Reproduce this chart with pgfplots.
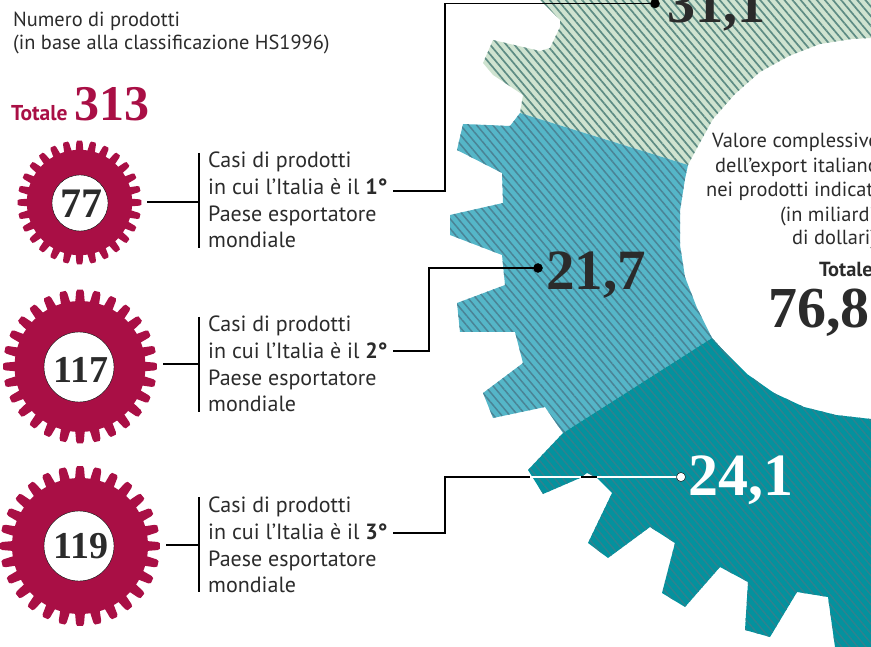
\documentclass[border=0pt]{standalone}
\usepackage{fontspec}
\usepackage{pgfplots}
\pgfplotsset{compat=1.18}
\usetikzlibrary{patterns.meta}
\setmainfont{PT Sans}
\newfontfamily\numf{Liberation Serif}[BoldFont={Liberation Serif Bold}]
\definecolor{crim}{HTML}{A90F45}
\definecolor{txt}{HTML}{2B2B2B}
\definecolor{gfill}{HTML}{CFE3D0}
\definecolor{ghatch}{HTML}{5E8C84}
\definecolor{bfill}{HTML}{55B6C8}
\definecolor{bhatch}{HTML}{4A8496}
\definecolor{tfill}{HTML}{03929E}
\definecolor{thatch}{HTML}{2F828F}
% a toothed wheel as a plot mark: its size is set by mark size
\newcommand\geartooth[1]{%
  \pgfpathmoveto{\pgfpointpolar{#1-4.2}{0.84*\pgfplotmarksize}}%
  \pgfpathlineto{\pgfpointpolar{#1-3.0}{0.97*\pgfplotmarksize}}%
  \pgfpathlineto{\pgfpointpolar{#1-2.0}{1.0*\pgfplotmarksize}}%
  \pgfpathlineto{\pgfpointpolar{#1+2.0}{1.0*\pgfplotmarksize}}%
  \pgfpathlineto{\pgfpointpolar{#1+3.0}{0.97*\pgfplotmarksize}}%
  \pgfpathlineto{\pgfpointpolar{#1+4.2}{0.84*\pgfplotmarksize}}%
  \pgfpathclose\pgfusepathqfill}
\pgfdeclareplotmark{gear}{%
  \pgfpathcircle{\pgfpointorigin}{0.85*\pgfplotmarksize}\pgfusepathqfill
  \foreach \a in {90,102.857,...,449} {\geartooth{\a}}%
}
\newcommand\T[3]{\node[anchor=base west,inner sep=0pt,text=txt,font=\fontsize{22}{26}\selectfont] at (axis cs:#1,#2) {#3};}
\newcommand\Hh[3]{\node[anchor=base west,inner sep=0pt,text=txt,font=\fontsize{20.4}{24}\selectfont] at (axis cs:#1,#2) {#3};}
\newcommand\N[5]{\node[anchor=base west,inner sep=0pt,text=#4,font=\numf\bfseries\fontsize{#5}{#5}\selectfont] at (axis cs:#1,#2) {#3};}
\begin{document}
\begin{tikzpicture}
\clip[use as bounding box] (0,0) rectangle (871pt,647pt);
\begin{axis}[width=871pt,height=647pt,scale only axis,xmin=0,xmax=871,ymin=0,ymax=647,y dir=reverse,
  axis lines=none,clip=false,clip marker paths=true]
% big gear: three sectors
\addplot[draw=none,preaction={fill=gfill},pattern={Lines[angle=-50,distance=6.2pt,line width=1.7pt]},pattern color=ghatch] coordinates {
(540,0)(560,20)(560,27)(550,48)(540,51)(493,40)(483,63)(493,75)(523,95)(520,113)(688,165)
(697,148)(713,119)(735,94)(760,72)(789,56)(820,44)(852,39)(871,38)(871,0)} --cycle;
\addplot[draw=none,preaction={fill=bfill},pattern={Lines[angle=-50,distance=6.2pt,line width=1.5pt]},pattern color=bhatch] coordinates {
(520,113)(510,126)(463,124)(457,150)(502,173)(503,203)(450,215)(450,235)(502,255)(505,285)(457,303)(460,332)(515,332)(523,363)(483,393)(493,418)(545,407)(563,433)
(712,338)(697,308)(685,277)(680,245)(680,211)(685,179)(688,165)} --cycle;
\addplot[draw=none,preaction={fill=tfill},pattern={Lines[angle=-50,distance=6.2pt,line width=1.5pt]},pattern color=thatch] coordinates {
(563,433)(528,470)(543,494)(580,478)(587,473)(597,478)(612,493)(588,543)(608,558)(650,527)(675,543)(662,593)(685,607)(720,567)(748,582)(745,630)(770,637)(797,592)(828,597)(835,647)(871,647)
(871,419)(836,415)(804,407)(774,393)(747,374)(723,350)(712,338)} --cycle;
% small gears
\addplot[only marks,mark=gear,mark size=62,mark options={fill=crim,draw=none}] coordinates {(79.5,202.5)};
\addplot[only marks,mark=gear,mark size=77,mark options={fill=crim,draw=none}] coordinates {(80,366.5)};
\addplot[only marks,mark=gear,mark size=80,mark options={fill=crim,draw=none}] coordinates {(80,546)};
\addplot[only marks,mark=*,mark size=28,mark options={fill=white,draw=none}] coordinates {(80,203)};
\addplot[only marks,mark=*,mark size=35,mark options={fill=white,draw=none}] coordinates {(79,367)(79,546)};
% connectors
\addplot[black,line width=1.3pt] coordinates {(147,202)(199,202)};
\addplot[black,line width=1.3pt] coordinates {(199,153)(199,248)};
\addplot[black,line width=1.3pt] coordinates {(163,364)(199,364)};
\addplot[black,line width=1.3pt] coordinates {(199,317)(199,412)};
\addplot[black,line width=1.3pt] coordinates {(166,545)(199,545)};
\addplot[black,line width=1.3pt] coordinates {(199,497)(199,592)};
\addplot[black,line width=1.1pt] coordinates {(393,191)(445,191)(445,3.5)(655,3.5)};
\addplot[black,line width=1.1pt] coordinates {(393,351)(429,351)(429,268)(538,268)};
\addplot[black,line width=1.1pt] coordinates {(393,533)(445,533)(445,477)(530,477)};
\addplot[white,line width=1.1pt] coordinates {(530,477)(681,477)};
\addplot[black,line width=1.1pt] coordinates {(581,477)(597,477)};
\addplot[only marks,mark=*,mark size=4.5,mark options={fill=black,draw=none}] coordinates {(655,3.5)(538,268)};
\addplot[only marks,mark=*,mark size=4.5,mark options={fill=white,draw=none}] coordinates {(681,477)};
% text
\Hh{13}{27}{Numero di prodotti}
\Hh{13}{50}{(in base alla classificazione HS1996)}
\node[anchor=base west,inner sep=0pt,text=crim,font=\bfseries\fontsize{21.5}{24}\selectfont] at (axis cs:11,121) {Totale};
\N{74}{121}{313}{crim}{50}
\N{60}{218}{77}{txt}{42}
\N{53}{382}{117}{txt}{38}
\N{53}{558}{119}{txt}{38}
\T{208}{168}{Casi di prodotti}
\T{208}{195}{in cui l’Italia è il \textbf{1°}}
\T{208}{222}{Paese esportatore}
\T{208}{248}{mondiale}
\T{208}{332}{Casi di prodotti}
\T{208}{359}{in cui l’Italia è il \textbf{2°}}
\T{208}{385}{Paese esportatore}
\T{208}{411}{mondiale}
\T{208}{512}{Casi di prodotti}
\T{208}{539}{in cui l’Italia è il \textbf{3°}}
\T{208}{566}{Paese esportatore}
\T{208}{592}{mondiale}
\N{667}{23}{31,1}{txt}{56}
\N{546}{290}{21,7}{txt}{57}
\N{688}{495}{24,1}{white}{60}
\Hh{712}{148}{Valore complessivo}
\Hh{715}{173}{dell’export italiano}
\Hh{706}{197}{nei prodotti indicati}
\Hh{780}{222}{(in miliardi}
\Hh{792}{245}{di dollari)}
\node[anchor=base west,inner sep=0pt,text=txt,font=\bfseries\fontsize{20.4}{24}\selectfont] at (axis cs:819,277) {Totale};
\N{768}{328}{76,8}{txt}{58}
\end{axis}
\end{tikzpicture}
\end{document}
